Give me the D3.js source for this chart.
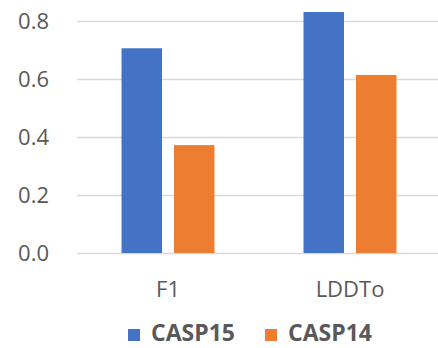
<!DOCTYPE html>
<html><head><meta charset="utf-8">
<script src="https://cdn.jsdelivr.net/npm/d3@7"></script>
<style>body{margin:0;background:#fff}svg{display:block}</style>
</head><body>
<svg id="c" width="438" height="348"></svg>
<script>
const categories = ["F1", "LDDTo"];
const seriesNames = ["CASP15", "CASP14"];
const casp15 = [0.706, 0.831];
const casp14 = [0.372, 0.614];
const yTicks = [0.0, 0.2, 0.4, 0.6, 0.8];
const colors = ["#4472C4", "#ED7D31"];

const values = [casp15, casp14];
const svg = d3.select("#c");
const font = "'Open Sans', sans-serif";
const textColor = "#595959";

const y = d3.scaleLinear().domain([0, 0.8]).range([253, 21]);
const x0 = d3.scaleBand().domain(categories).range([77, 441]).padding(0);
const x1 = d3.scaleBand().domain(seriesNames).range([0, x0.bandwidth()])
  .paddingInner(0.229).paddingOuter(0.848);

const yAxis = d3.axisLeft(y).tickValues(yTicks).tickFormat(d3.format(".1f"))
  .tickSize(-(438 - 77)).tickPadding(28);
const gy = svg.append("g").attr("transform", "translate(77,0)").call(yAxis);
gy.select(".domain").remove();
gy.selectAll(".tick line").attr("stroke", "#d9d9d9").attr("stroke-width", 1.3);
gy.selectAll(".tick text").attr("fill", textColor).style("font-family", font)
  .style("font-size", "22px").attr("dy", "0.35em");

const groups = svg.append("g").selectAll("g").data(categories).join("g")
  .attr("transform", d => `translate(${x0(d)},0)`);
groups.selectAll("rect").data((d, i) => seriesNames.map((s, j) => ({s, v: values[j][i], j})))
  .join("rect")
  .attr("x", d => x1(d.s)).attr("width", x1.bandwidth())
  .attr("y", d => y(d.v)).attr("height", d => y(0) - y(d.v))
  .attr("fill", d => colors[d.j]);

const xAxis = d3.axisBottom(x0).tickSize(0).tickPadding(28);
const gx = svg.append("g").attr("transform", "translate(0,253)").call(xAxis);
gx.select(".domain").remove();
gx.selectAll(".tick text").attr("fill", textColor).style("font-family", font)
  .style("font-size", "22px");

const legend = svg.append("g");
const legendX = [128, 265];
seriesNames.forEach((s, j) => {
  legend.append("rect").attr("x", legendX[j]).attr("y", 329).attr("width", 12).attr("height", 12)
    .attr("fill", colors[j]);
  legend.append("text").attr("x", legendX[j] + 23).attr("y", 341)
    .attr("fill", textColor).style("font-family", font).style("font-size", "23px")
    .style("font-weight", "bold").text(s);
});
</script>
</body></html>
